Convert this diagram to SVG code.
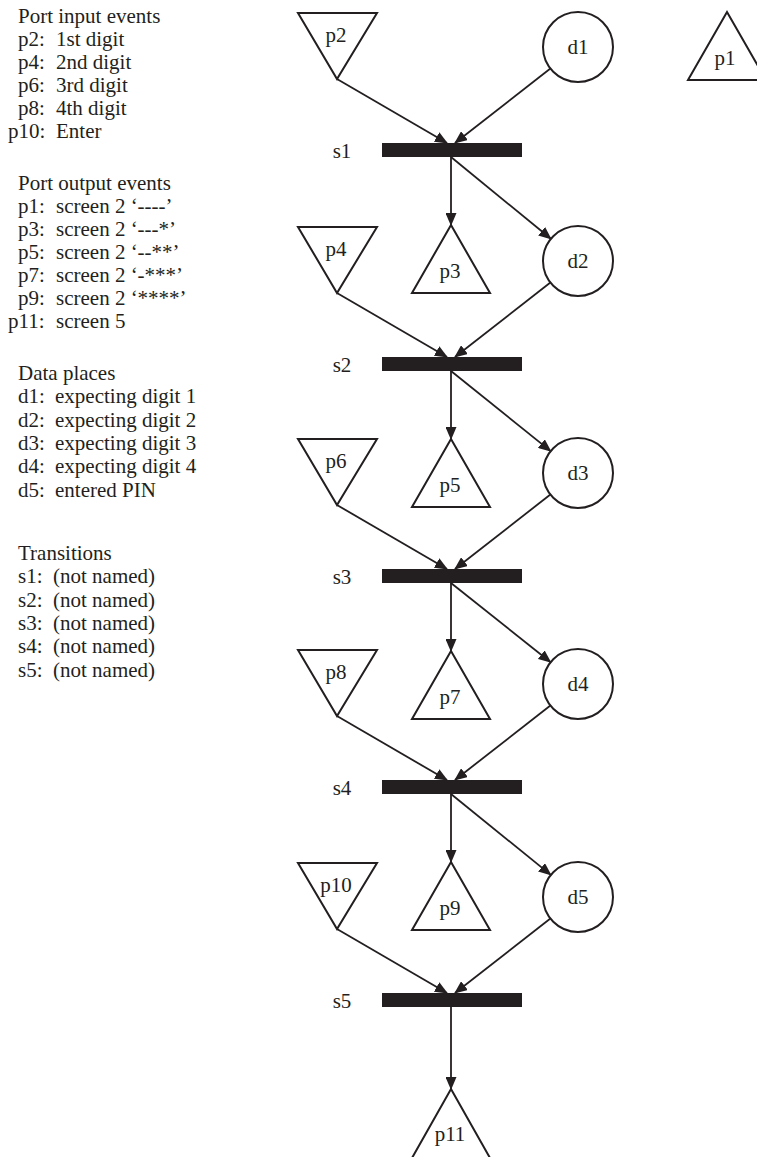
<svg xmlns="http://www.w3.org/2000/svg" width="757" height="1157" viewBox="0 0 757 1157">
<defs>
<style>
text{font-family:"Liberation Serif","Times New Roman",serif;font-size:21px;fill:#231f20}
.lbl{text-anchor:middle}
.shape{fill:#fff;stroke:#231f20;stroke-width:2}
.bar{fill:#231f20}
.edge{stroke:#231f20;stroke-width:1.8;fill:none;marker-end:url(#ah)}
</style>
<marker id="ah" markerUnits="userSpaceOnUse" markerWidth="13" markerHeight="11" refX="12" refY="5.5" orient="auto">
<path d="M0,0 L13,5.5 L0,11 z" fill="#231f20"/>
</marker>
</defs>
<rect width="757" height="1157" fill="#fff"/>

<g id="legend">
<text x="18" y="23">Port input events</text>
<text x="18" y="46">p2:</text><text x="56" y="46">1st digit</text>
<text x="18" y="69">p4:</text><text x="56" y="69">2nd digit</text>
<text x="18" y="92">p6:</text><text x="56" y="92">3rd digit</text>
<text x="18" y="115">p8:</text><text x="56" y="115">4th digit</text>
<text x="8" y="138">p10:</text><text x="56" y="138">Enter</text>

<text x="18" y="190">Port output events</text>
<text x="18" y="213">p1:</text><text x="56" y="213">screen 2 ‘----’</text>
<text x="18" y="236">p3:</text><text x="56" y="236">screen 2 ‘---*’</text>
<text x="18" y="259">p5:</text><text x="56" y="259">screen 2 ‘--**’</text>
<text x="18" y="282">p7:</text><text x="56" y="282">screen 2 ‘-***’</text>
<text x="18" y="305">p9:</text><text x="56" y="305">screen 2 ‘****’</text>
<text x="8" y="328">p11:</text><text x="56" y="328">screen 5</text>

<text x="18" y="380">Data places</text>
<text x="18" y="403">d1:</text><text x="55" y="403">expecting digit 1</text>
<text x="18" y="427">d2:</text><text x="55" y="427">expecting digit 2</text>
<text x="18" y="450">d3:</text><text x="55" y="450">expecting digit 3</text>
<text x="18" y="473">d4:</text><text x="55" y="473">expecting digit 4</text>
<text x="18" y="497">d5:</text><text x="55" y="497">entered PIN</text>

<text x="18" y="560">Transitions</text>
<text x="18" y="583">s1:</text><text x="53" y="583">(not named)</text>
<text x="18" y="607">s2:</text><text x="53" y="607">(not named)</text>
<text x="18" y="630">s3:</text><text x="53" y="630">(not named)</text>
<text x="18" y="653">s4:</text><text x="53" y="653">(not named)</text>
<text x="18" y="677">s5:</text><text x="53" y="677">(not named)</text>
</g>

<g id="connectors">
<line class="edge" x1="337" y1="79" x2="447" y2="143"/>
<line class="edge" x1="550.4" y1="68.5" x2="455" y2="143"/>
<line class="edge" x1="451" y1="157" x2="451" y2="225"/>
<line class="edge" x1="451" y1="157" x2="550.9" y2="238.8"/>

<line class="edge" x1="337" y1="293" x2="447" y2="357"/>
<line class="edge" x1="550.4" y1="282.5" x2="455" y2="357"/>
<line class="edge" x1="451" y1="371" x2="451" y2="439"/>
<line class="edge" x1="451" y1="371" x2="550.7" y2="451.1"/>

<line class="edge" x1="337" y1="505" x2="447" y2="569"/>
<line class="edge" x1="550.4" y1="494.5" x2="455" y2="569"/>
<line class="edge" x1="451" y1="583" x2="451" y2="651"/>
<line class="edge" x1="451" y1="583" x2="550.6" y2="662.2"/>

<line class="edge" x1="337" y1="716" x2="447" y2="780"/>
<line class="edge" x1="550.4" y1="705.5" x2="455" y2="780"/>
<line class="edge" x1="451" y1="794" x2="451" y2="862"/>
<line class="edge" x1="451" y1="794" x2="550.8" y2="874.9"/>

<line class="edge" x1="337" y1="929" x2="447" y2="993"/>
<line class="edge" x1="550.4" y1="918.5" x2="455" y2="993"/>
<line class="edge" x1="451" y1="1007" x2="451" y2="1089"/>
</g>

<g id="p1"><polygon class="shape" points="727,12 766,80 688,80"/><text class="lbl" x="725" y="65">p1</text></g>

<g id="p2"><polygon class="shape" points="298,13 377,13 337,79"/><text class="lbl" x="336" y="42">p2</text></g>
<g id="d1"><circle class="shape" cx="578" cy="47" r="35"/><text class="lbl" x="578" y="54">d1</text></g>
<g id="s1"><rect class="bar" x="382" y="143" width="140" height="14"/><text class="lbl" x="342" y="158">s1</text></g>
<g id="p3"><polygon class="shape" points="451,225 490,293 412,293"/><text class="lbl" x="450" y="278">p3</text></g>

<g id="p4"><polygon class="shape" points="298,227 377,227 337,293"/><text class="lbl" x="336" y="256">p4</text></g>
<g id="d2"><circle class="shape" cx="578" cy="261" r="35"/><text class="lbl" x="578" y="268">d2</text></g>
<g id="s2"><rect class="bar" x="382" y="357" width="140" height="14"/><text class="lbl" x="342" y="372">s2</text></g>
<g id="p5"><polygon class="shape" points="451,439 490,507 412,507"/><text class="lbl" x="450" y="492">p5</text></g>

<g id="p6"><polygon class="shape" points="298,439 377,439 337,505"/><text class="lbl" x="336" y="468">p6</text></g>
<g id="d3"><circle class="shape" cx="578" cy="473" r="35"/><text class="lbl" x="578" y="480">d3</text></g>
<g id="s3"><rect class="bar" x="382" y="569" width="140" height="14"/><text class="lbl" x="342" y="584">s3</text></g>
<g id="p7"><polygon class="shape" points="451,651 490,719 412,719"/><text class="lbl" x="450" y="704">p7</text></g>

<g id="p8"><polygon class="shape" points="298,650 377,650 337,716"/><text class="lbl" x="336" y="679">p8</text></g>
<g id="d4"><circle class="shape" cx="578" cy="684" r="35"/><text class="lbl" x="578" y="691">d4</text></g>
<g id="s4"><rect class="bar" x="382" y="780" width="140" height="14"/><text class="lbl" x="342" y="795">s4</text></g>
<g id="p9"><polygon class="shape" points="451,862 490,930 412,930"/><text class="lbl" x="450" y="915">p9</text></g>

<g id="p10"><polygon class="shape" points="298,863 377,863 337,929"/><text class="lbl" x="336" y="892">p10</text></g>
<g id="d5"><circle class="shape" cx="578" cy="897" r="35"/><text class="lbl" x="578" y="904">d5</text></g>
<g id="s5"><rect class="bar" x="382" y="993" width="140" height="14"/><text class="lbl" x="342" y="1008">s5</text></g>
<g id="p11"><polygon class="shape" points="451,1089 490,1158 412,1158"/><text class="lbl" x="450" y="1141">p11</text></g>
</svg>
